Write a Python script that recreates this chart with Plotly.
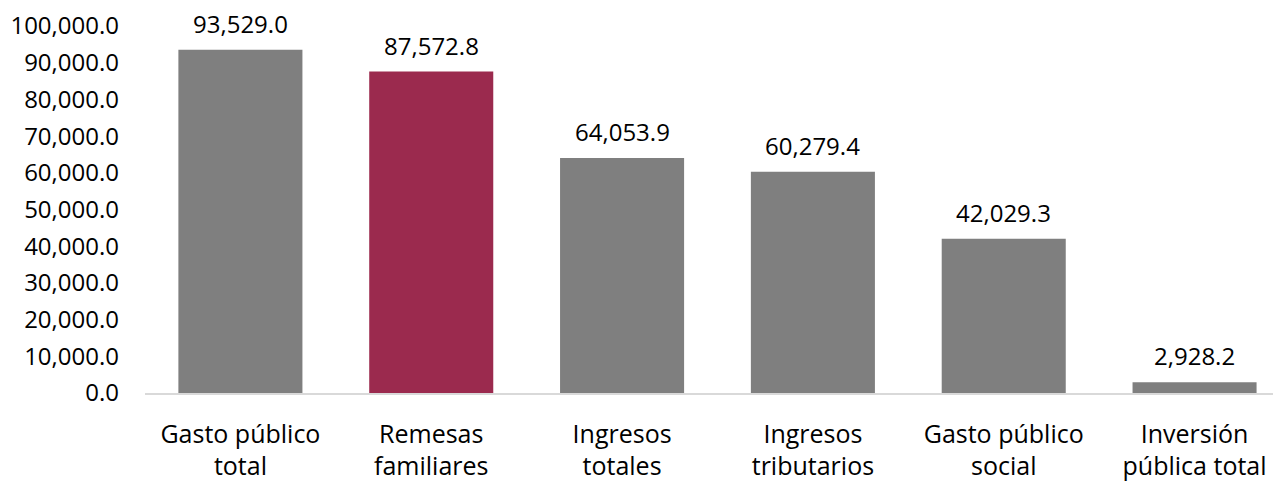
import plotly.graph_objects as go

categories = ["Gasto público<br>total", "Remesas<br>familiares", "Ingresos<br>totales",
              "Ingresos<br>tributarios", "Gasto público<br>social", "Inversión<br>pública total"]
values = [93529.0, 87572.8, 64053.9, 60279.4, 42029.3, 2928.2]
highlight = "Remesas<br>familiares"
tick_vals = [0, 10000, 20000, 30000, 40000, 50000, 60000, 70000, 80000, 90000, 100000]

GRAY = "#7f7f7f"
MAROON = "#9b2a4e"
colors = [MAROON if c == highlight else GRAY for c in categories]
FONT = "Open Sans"

fig = go.Figure(go.Bar(
    x=list(range(len(categories))), y=values, marker=dict(color=colors, line=dict(width=0)),
    width=0.65,
))
for i, v in enumerate(values):
    fig.add_annotation(x=i, y=v, text=f"{v:,.1f}", showarrow=False, yanchor="bottom",
                       yshift=8, font=dict(family=FONT, size=24, color="#000"))

fig.update_layout(
    width=1273, height=475,
    margin=dict(l=137, r=0, t=18, b=90, autoexpand=False),
    plot_bgcolor="white", paper_bgcolor="white",
    showlegend=False,
    font=dict(family=FONT, size=24, color="#000"),
)
fig.update_xaxes(
    tickmode="array", tickvals=list(range(len(categories))), ticktext=categories,
    range=[-0.5, 5.453], showline=True, linecolor="#d9d9d9", linewidth=1.5,
    ticks="", showgrid=False, zeroline=False, tickfont=dict(size=25),
    ticklabelstandoff=18, automargin=False,
)
fig.update_yaxes(
    range=[0, 100000], tickvals=tick_vals, tickformat=",.1f",
    showgrid=False, zeroline=False, showline=False, ticks="",
    ticklabelstandoff=25, tickfont=dict(size=24), automargin=False,
)
fig.write_html("out.html")
